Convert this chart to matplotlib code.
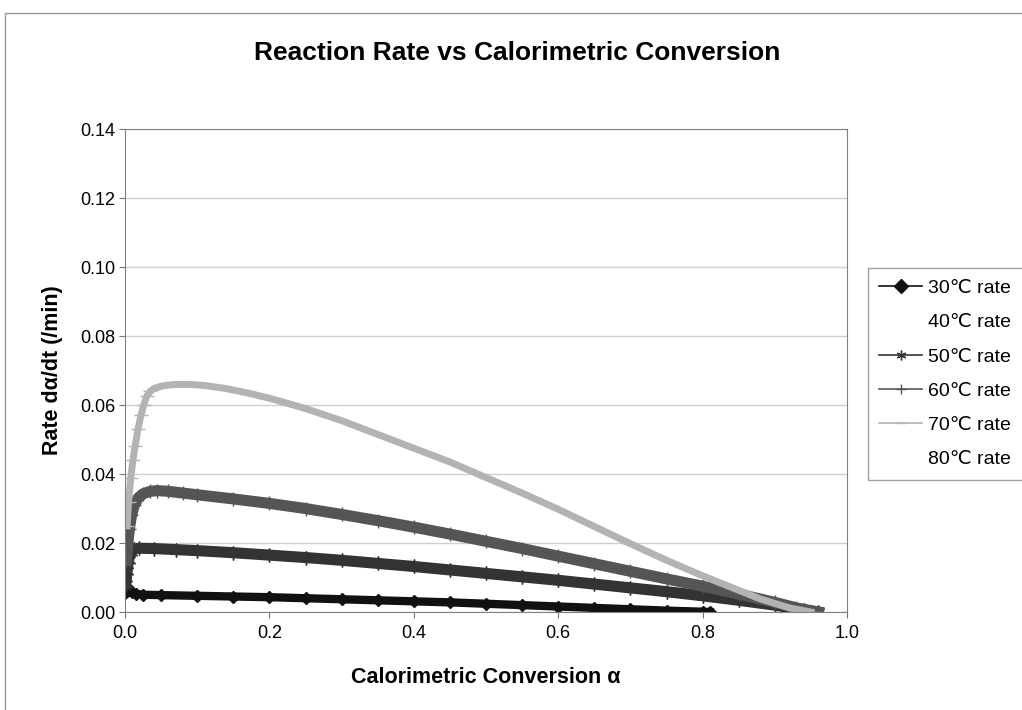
import matplotlib
matplotlib.use("Agg")
import matplotlib.pyplot as plt
from matplotlib.patches import Rectangle

plt.rcParams['font.family'] = ['Liberation Sans', 'DejaVu Sans']

# calorimetric conversion / rate
alpha_30 = [0.0005, 0.003, 0.006, 0.01, 0.015, 0.025, 0.05, 0.10, 0.15, 0.20, 0.25, 0.30,
            0.35, 0.40, 0.45, 0.50, 0.55, 0.60, 0.65, 0.70, 0.75, 0.80, 0.81]
rate_30 = [0.0055, 0.0072, 0.0065, 0.0058, 0.0053, 0.0050, 0.0049, 0.0047, 0.0045, 0.0043,
           0.0040, 0.0037, 0.0034, 0.0031, 0.0028, 0.0024, 0.0020, 0.0016, 0.0012, 0.0008,
           0.0004, 0.0001, 0.0]

alpha_50 = [0.001, 0.003, 0.005, 0.008, 0.012, 0.02, 0.04, 0.07, 0.10, 0.15, 0.20, 0.25,
            0.30, 0.35, 0.40, 0.45, 0.50, 0.55, 0.60, 0.65, 0.70, 0.75, 0.80, 0.85, 0.90,
            0.94, 0.96]
rate_50 = [0.008, 0.012, 0.015, 0.0175, 0.0183, 0.0185, 0.0184, 0.0181, 0.0178, 0.0172,
           0.0165, 0.0158, 0.0150, 0.0141, 0.0132, 0.0122, 0.0112, 0.0102, 0.0092, 0.0081,
           0.0070, 0.0059, 0.0047, 0.0034, 0.0020, 0.0006, 0.0]

alpha_60 = [0.002, 0.004, 0.006, 0.009, 0.013, 0.018, 0.025, 0.035, 0.045, 0.06, 0.08, 0.10,
            0.15, 0.20, 0.25, 0.30, 0.35, 0.40, 0.45, 0.50, 0.55, 0.60, 0.65, 0.70, 0.75,
            0.80, 0.85, 0.90, 0.93, 0.96]
rate_60 = [0.015, 0.020, 0.024, 0.028, 0.031, 0.033, 0.0343, 0.0350, 0.0352, 0.0350, 0.0345,
           0.0340, 0.0328, 0.0315, 0.0300, 0.0283, 0.0265, 0.0246, 0.0226, 0.0205, 0.0184,
           0.0162, 0.0140, 0.0118, 0.0096, 0.0075, 0.0052, 0.0028, 0.0012, 0.0]

alpha_70 = [0.003, 0.005, 0.008, 0.011, 0.014, 0.018, 0.022, 0.026, 0.030, 0.035, 0.04, 0.05,
            0.06, 0.07, 0.09, 0.11, 0.14, 0.17, 0.20, 0.25, 0.30, 0.35, 0.40, 0.45, 0.50,
            0.55, 0.60, 0.65, 0.70, 0.75, 0.80, 0.85, 0.88, 0.90, 0.92, 0.95]
rate_70 = [0.025, 0.032, 0.039, 0.044, 0.048, 0.053, 0.057, 0.060, 0.0625, 0.0640, 0.0648,
           0.0655, 0.0658, 0.0660, 0.0660, 0.0657, 0.0648, 0.0635, 0.0620, 0.0590, 0.0555,
           0.0515, 0.0475, 0.0435, 0.0390, 0.0345, 0.0298, 0.0248, 0.0198, 0.0150, 0.0105,
           0.0063, 0.0038, 0.0025, 0.0012, 0.0]

fig = plt.figure(figsize=(10.22, 7.10), dpi=100)
fig.patches.append(Rectangle((0.005, -0.01), 1.0, 0.992, transform=fig.transFigure,
                             fill=False, edgecolor='#9a9a9a', linewidth=1.0))
ax = fig.add_axes([0.1223, 0.138, 0.7065, 0.680])

ax.plot(alpha_30, rate_30, color='#111111', marker='D', markersize=6, linewidth=6,
        label='30\u2103 rate')
ax.plot([], [], linestyle='none', label='40\u2103 rate')
ax.plot(alpha_50, rate_50, color='#333333', marker=(6, 2, 0), markersize=10, linewidth=8,
        label='50\u2103 rate')
ax.plot(alpha_60, rate_60, color='#555555', marker='+', markersize=10, linewidth=8,
        label='60\u2103 rate')
ax.plot(alpha_70, rate_70, color='#b3b3b3', marker='_', markersize=10, linewidth=5,
        label='70\u2103 rate')
ax.plot([], [], linestyle='none', label='80\u2103 rate')

ax.set_xlim(0, 1.0)
ax.set_ylim(0, 0.14)
ax.set_xticks([0.0, 0.2, 0.4, 0.6, 0.8, 1.0])
ax.set_xticklabels(['0.0', '0.2', '0.4', '0.6', '0.8', '1.0'])
ax.set_yticks([0.00, 0.02, 0.04, 0.06, 0.08, 0.10, 0.12, 0.14])
ax.set_yticklabels(['0.00', '0.02', '0.04', '0.06', '0.08', '0.10', '0.12', '0.14'])
ax.tick_params(labelsize=13, direction='out', length=4, color='#777777', pad=3)
ax.tick_params(axis='x', pad=5)
ax.grid(axis='y', color='#d0d0d0', linewidth=1)
ax.set_axisbelow(True)
for s in ax.spines.values():
    s.set_color('#808080')

ax.set_xlabel('Calorimetric Conversion \u03b1', fontsize=15.5, fontweight='bold', labelpad=18)
ax.set_ylabel('Rate d\u03b1/dt (/min)', fontsize=15.5, fontweight='bold', labelpad=12)
fig.text(0.506, 0.926, 'Reaction Rate vs Calorimetric Conversion', ha='center', va='center',
         fontsize=19, fontweight='bold')

leg = fig.legend(loc='upper left', bbox_to_anchor=(0.849, 0.6225), fontsize=14,
                 frameon=True, fancybox=False, edgecolor='#888888', handlelength=2.2,
                 handletextpad=0.3, labelspacing=0.85, borderpad=0.6, borderaxespad=0)
leg.get_frame().set_linewidth(1.0)
for h in leg.legend_handles:
    h.set_linewidth(1.2)
    h.set_markersize(7)

fig.savefig('out.png', dpi=100)
